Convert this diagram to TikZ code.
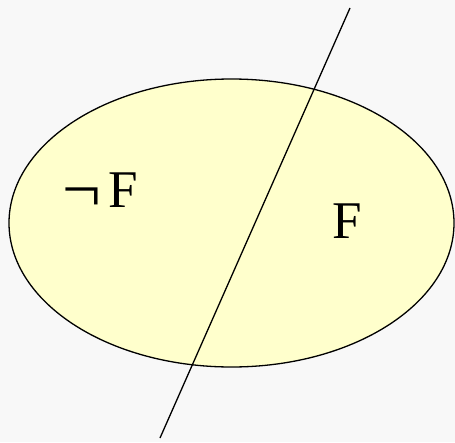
\documentclass[tikz,border=0pt]{standalone}
\usepackage{fontspec}
\setmainfont{Liberation Serif}
\usetikzlibrary{shapes.geometric}
\definecolor{bg}{HTML}{F8F8F8}
\definecolor{setfill}{HTML}{FFFFCC}
\tikzset{
  lbl/.style={font=\fontsize{53}{60}\selectfont, inner sep=0pt, anchor=base},
  setshape/.style={draw=black, line width=1.3pt, fill=setfill},
  cut/.style={draw=black, line width=1.3pt}
}
\begin{document}
\begin{tikzpicture}[x=1pt,y=-1pt]
  \fill[bg] (0,0) rectangle (455,442);
  \useasboundingbox (0,0) rectangle (455,442);
  \node[setshape, ellipse, minimum width=445pt, minimum height=288pt, inner sep=0pt] (set) at (231.5,223) {};
  \coordinate (top) at (350,8);
  \coordinate (bot) at (160,438);
  \draw[cut] (top) -- (bot);
  \node[lbl, anchor=base east] (notF) at (138,207) {\raisebox{-4pt}{\scalebox{1.3}[1.25]{¬}}\hspace{7pt}F};
  \node[lbl] (F) at (347,238) {F};
\end{tikzpicture}
\end{document}
